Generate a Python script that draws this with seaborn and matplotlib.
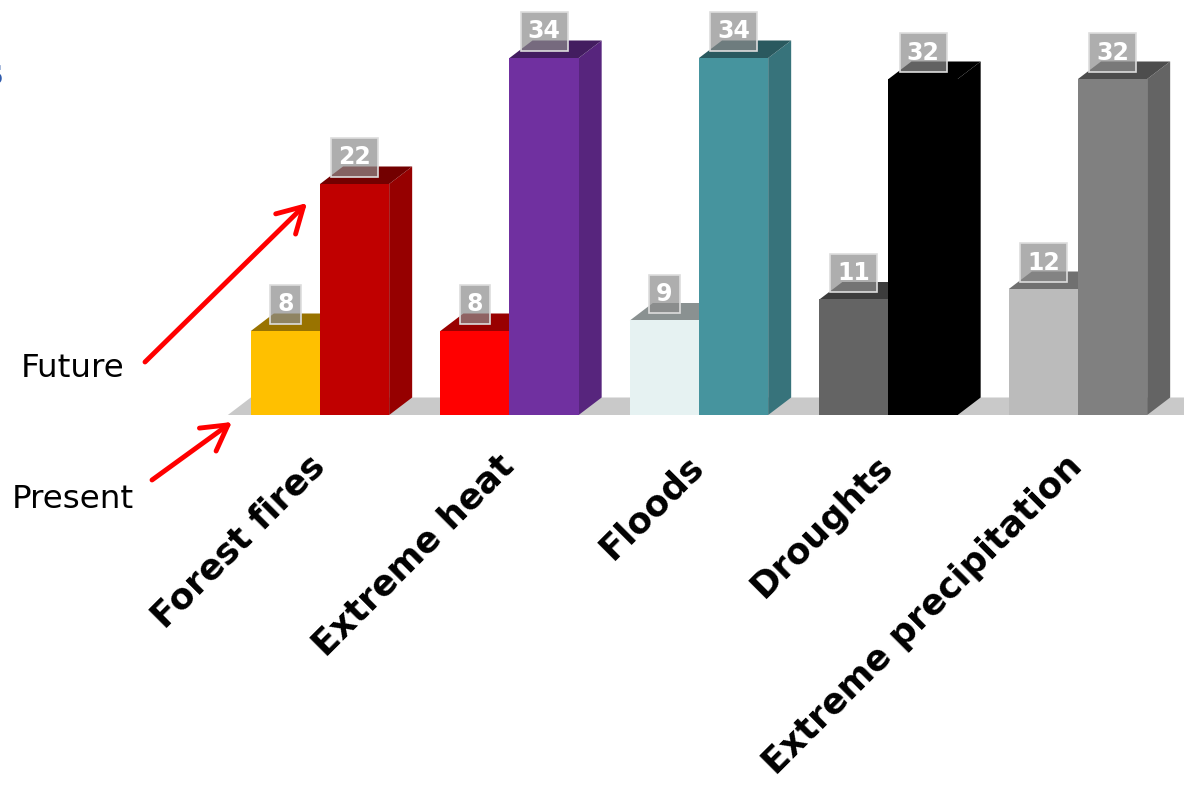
import numpy as np
import pandas as pd
import matplotlib
matplotlib.use("Agg")
import matplotlib.pyplot as plt
from matplotlib.patches import Polygon
import matplotlib.colors as mcolors
import seaborn as sns

# ---- data ----
categories = ["Forest fires", "Extreme heat", "Floods", "Droughts", "Extreme precipitation"]
periods = ["Present", "Future"]
present_values = [8, 8, 9, 11, 12]
future_values = [22, 34, 34, 32, 32]
present_colors = ["#FFC000", "#FF0000", "#E6F2F2", "#646464", "#BBBBBB"]
future_colors = ["#C00000", "#7030A0", "#46949E", "#000000", "#808080"]

sns.set_theme(style="white")
plt.rcParams["font.family"] = ["DejaVu Sans"]

W, H = 1184, 785
fig = plt.figure(figsize=(W / 100, H / 100), dpi=100)
ax = fig.add_axes([0, 0, 1, 1])

df = pd.DataFrame({
    "category": categories * 2,
    "period": ["Present"] * len(categories) + ["Future"] * len(categories),
    "value": present_values + future_values,
})

sns.barplot(data=df, x="category", y="value", hue="period", order=categories,
            hue_order=periods, width=0.73, dodge=True, saturation=1,
            legend=False, ax=ax, errorbar=None)

# pixel scale of the axes
PX_X = 189.5   # px per category unit
PX_Y = 10.5    # px per value unit
X0_PX = 320    # pixel of category 0
Y0_PX = 415    # pixel of baseline
ax.set_xlim(-X0_PX / PX_X, (W - X0_PX) / PX_X)
ax.set_ylim(-(H - Y0_PX) / PX_Y, Y0_PX / PX_Y)
ax.axis("off")

dx = 23 / PX_X
dy = 17.5 / PX_Y

bars = sorted(ax.patches, key=lambda p: p.get_x())

def shade(c, f):
    r, g, b = mcolors.to_rgb(c)
    return (r * f, g * f, b * f)

# floor
first = bars[0]
fx0 = first.get_x() - dx
floor = Polygon([(fx0, 0), (fx0 + dx, dy), (10, dy), (10, 0)], closed=True,
                facecolor="#C9C9C9", edgecolor="none", zorder=0.5)
ax.add_patch(floor)

for i, cat in enumerate(categories):
    pres = bars[2 * i]
    fut = bars[2 * i + 1]
    for j, (bar, col) in enumerate([(pres, present_colors[i]), (fut, future_colors[i])]):
        z = 2 + 4 * i + 2 * j
        x = bar.get_x()
        w = bar.get_width()
        h = bar.get_height()
        bar.set_facecolor(col)
        bar.set_edgecolor("none")
        bar.set_zorder(z + 1)
        side = Polygon([(x + w, 0), (x + w + dx, dy), (x + w + dx, h + dy), (x + w, h)],
                       closed=True, facecolor=shade(col, 0.78), edgecolor="none", zorder=z)
        top = Polygon([(x, h), (x + dx, h + dy), (x + w + dx, h + dy), (x + w, h)],
                      closed=True, facecolor=shade(col, 0.6), edgecolor="none", zorder=z)
        ax.add_patch(side)
        ax.add_patch(top)
        ax.text(x + w / 2, h + 26.5 / PX_Y, f"{h:.0f}", ha="center", va="center",
                fontsize=17, fontweight="bold", color="white", zorder=50,
                bbox=dict(boxstyle="square,pad=0.3", facecolor=(0.55, 0.55, 0.55, 0.7),
                          edgecolor="#DDDDDD", linewidth=1.2))
    # category label
    ax.text(i - 1 / PX_X, -46 / PX_Y, cat, rotation=45, rotation_mode="anchor",
            ha="right", va="center", fontsize=25.5, fontweight="bold", color="black",
            zorder=60)

# annotations
fig.text(21 / W, 1 - 377 / H, "Future", ha="left", va="baseline", fontsize=23.4, color="black")
fig.text(12 / W, 1 - 508 / H, "Present", ha="left", va="baseline", fontsize=23.4, color="black")
arrow_kw = dict(arrowstyle="->,head_length=1.5,head_width=0.85", color="red", lw=3.5,
                shrinkA=0, shrinkB=0)
ax.annotate("", xy=(307, H - 203), xycoords="figure pixels",
            xytext=(145, H - 362), textcoords="figure pixels", arrowprops=arrow_kw)
ax.annotate("", xy=(232, H - 422), xycoords="figure pixels",
            xytext=(152, H - 480), textcoords="figure pixels", arrowprops=arrow_kw)

# clipped title fragment at left edge
fig.text(3 / W, 1 - 73 / H, "s", ha="right", va="center", fontsize=26,
         color="#2E5AAC", fontweight="bold")

fig.savefig("out.png", dpi=100)
